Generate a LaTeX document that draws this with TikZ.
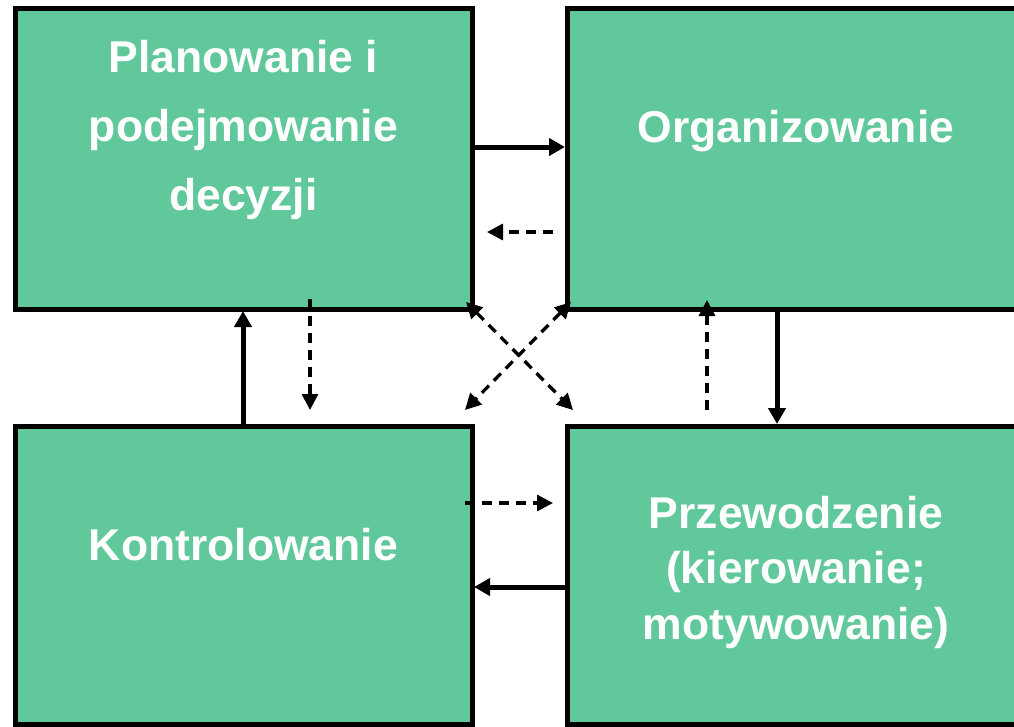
\documentclass[tikz,border=0pt]{standalone}
\usepackage{fontspec}
\setmainfont{Liberation Sans}
\usetikzlibrary{arrows.meta,calc}
\definecolor{boxgreen}{RGB}{96,200,155}
\begin{document}
\begin{tikzpicture}[x=1pt,y=-1pt,
  box/.style={draw=black,fill=boxgreen,line width=5pt,rectangle,inner sep=0pt,outer sep=0pt,anchor=north west},
  lbl/.style={text=white,align=center,anchor=base,inner sep=0pt},
  solidarrow/.style={line width=5pt,-{Triangle[length=16pt,width=17pt]}},
  dasharrow/.style={line width=3.3pt,dash pattern=on 10pt off 7pt,-{Triangle[length=16pt,width=16pt]}},
  dashboth/.style={line width=3.3pt,dash pattern=on 10pt off 7pt,{Triangle[length=16pt,width=16pt]}-{Triangle[length=16pt,width=16pt]}}]
\useasboundingbox (0,0) rectangle (1014,726);
\clip (0,0) rectangle (1014,726);
\node[box,minimum width=457pt,minimum height=301pt] (TL) at (15,8) {};
\node[box,minimum width=458pt,minimum height=301pt] (TR) at (567,8) {};
\node[box,minimum width=457pt,minimum height=298pt] (BL) at (15,426) {};
\node[box,minimum width=458pt,minimum height=298pt] (BR) at (567,426) {};
\node[lbl,font=\fontsize{44.5}{69}\selectfont\bfseries] (tTL) at (243.5,210) {Planowanie i\\podejmowanie\\decyzji};
\node[lbl,font=\fontsize{44.5}{68}\selectfont\bfseries] (tTR) at (796,142) {Organizowanie};
\node[lbl,font=\fontsize{44.5}{68}\selectfont\bfseries] (tBL) at (243.5,560) {Kontrolowanie};
\node[lbl,font=\fontsize{44.5}{55.5}\selectfont\bfseries] (tBR) at (796,639) {Przewodzenie\\(kierowanie;\\motywowanie)};
% connectors
\draw[solidarrow] ($(TL.north east)+(0,139)$) -- ($(TR.north west)+(-2,139)$);
\draw[dasharrow] ($(TR.north west)+(-14,224)$) -- ($(TL.north east)+(15,224)$);
\draw[solidarrow] ($(TR.south west)+(210,0)$) -- ($(BR.north west)+(210,-2)$);
\draw[dasharrow] ($(BR.north west)+(140,-16)$) -- ($(TR.south west)+(140,-9)$);
\draw[dasharrow] ($(TL.south west)+(295,-10)$) -- ($(BL.north west)+(295,-16)$);
\draw[solidarrow] ($(BL.north west)+(228,0)$) -- ($(TL.south west)+(228,2)$);
\draw[solidarrow] ($(BR.north west)+(0,161)$) -- ($(BL.north east)+(2,161)$);
\draw[dasharrow] ($(BL.north east)+(-7,77)$) -- ($(BR.north west)+(-14,77)$);
\draw[dashboth] ($(TL.south east)+(-6,-7)$) -- ($(BR.north west)+(6,-16)$);
\draw[dashboth] ($(TR.south west)+(4,-7)$) -- ($(BL.north east)+(-7,-16)$);
\end{tikzpicture}
\end{document}
